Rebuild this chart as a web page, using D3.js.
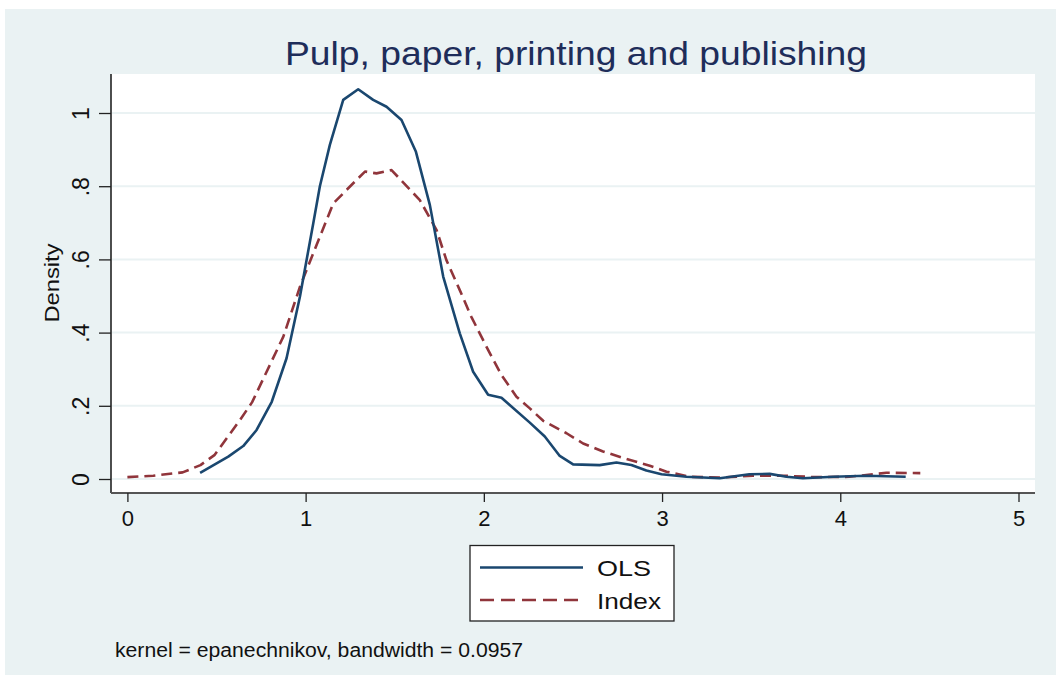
<!DOCTYPE html>
<html>
<head>
<meta charset="utf-8">
<script src="https://cdn.jsdelivr.net/npm/d3@7"></script>
<style>
  html, body { margin: 0; padding: 0; background: #ffffff; }
  svg { display: block; font-family: "Liberation Sans", Arial, sans-serif; }
</style>
</head>
<body>
<svg id="chart" width="1056" height="675"></svg>
<script>
// Kernel density estimates (Epanechnikov, bw = 0.0957)
const olsX = [0.408, 0.566, 0.65, 0.725, 0.81, 0.893, 0.968, 1.043, 1.08, 1.136, 1.211, 1.295, 1.379, 1.454, 1.538, 1.619, 1.697, 1.772, 1.865, 1.94, 2.024, 2.099, 2.258, 2.342, 2.426, 2.501, 2.65, 2.744, 2.828, 2.912, 2.997, 3.137, 3.324, 3.49, 3.604, 3.698, 3.79, 3.96, 4.146, 4.367];
const olsDensity = [0.017, 0.061, 0.09, 0.134, 0.211, 0.33, 0.498, 0.699, 0.80, 0.913, 1.036, 1.065, 1.036, 1.017, 0.981, 0.894, 0.749, 0.553, 0.398, 0.293, 0.23, 0.222, 0.154, 0.116, 0.063, 0.04, 0.038, 0.045, 0.038, 0.023, 0.013, 0.006, 0.002, 0.013, 0.014, 0.006, 0.002, 0.006, 0.009, 0.006];

const indexX = [0.0, 0.145, 0.31, 0.41, 0.49, 0.63, 0.70, 0.875, 0.968, 1.043, 1.155, 1.267, 1.333, 1.398, 1.482, 1.641, 1.735, 1.79, 1.865, 1.93, 2.015, 2.099, 2.183, 2.258, 2.333, 2.464, 2.557, 2.669, 2.8, 2.931, 3.025, 3.155, 3.324, 3.51, 3.68, 3.866, 4.05, 4.259, 4.449];
const indexDensity = [0.005, 0.009, 0.018, 0.038, 0.066, 0.16, 0.21, 0.389, 0.525, 0.617, 0.753, 0.808, 0.84, 0.835, 0.844, 0.762, 0.68, 0.598, 0.516, 0.443, 0.361, 0.284, 0.225, 0.193, 0.159, 0.125, 0.097, 0.075, 0.055, 0.036, 0.02, 0.006, 0.004, 0.009, 0.009, 0.005, 0.006, 0.017, 0.016];

const xTicks = [0, 1, 2, 3, 4, 5];
const xTickLabels = ["0", "1", "2", "3", "4", "5"];
const yTicks = [0, 0.2, 0.4, 0.6, 0.8, 1.0];
const yTickLabels = ["0", ".2", ".4", ".6", ".8", "1"];
const seriesNames = ["OLS", "Index"];
const titleText = "Pulp, paper, printing and publishing";
const noteText = "kernel = epanechnikov, bandwidth = 0.0957";

const svg = d3.select("#chart");
const bg = "#eaf2f3";
const olsColor = "#1a476f";
const idxColor = "#90353b";

// outer graph region
svg.append("rect").attr("x", 5).attr("y", 9).attr("width", 1051).attr("height", 666).attr("fill", bg);

const plot = { left: 111, top: 74, right: 1035, bottom: 493 };
svg.append("rect")
  .attr("x", plot.left).attr("y", plot.top)
  .attr("width", plot.right - plot.left).attr("height", plot.bottom - plot.top)
  .attr("fill", "#ffffff");

const x = d3.scaleLinear().domain([0, 5]).range([127.4, 1018.5]);
const y = d3.scaleLinear().domain([0, 1]).range([479, 113]);

// horizontal gridlines
svg.append("g").selectAll("line").data(yTicks).join("line")
  .attr("x1", plot.left + 1).attr("x2", plot.right)
  .attr("y1", d => y(d)).attr("y2", d => y(d))
  .attr("stroke", bg).attr("stroke-width", 2);

// y axis
const yAxis = d3.axisLeft(y).tickValues(yTicks).tickSize(12).tickPadding(10)
  .tickFormat((d, i) => yTickLabels[i]);
const gy = svg.append("g").attr("transform", `translate(${plot.left},0)`).call(yAxis);
gy.select(".domain").attr("d", `M0,${plot.top}V${plot.bottom}`).attr("stroke", "#222").attr("stroke-width", 1.6);
gy.selectAll(".tick line").attr("stroke", "#222").attr("stroke-width", 1.3);
gy.selectAll(".tick text")
  .attr("font-size", 23).attr("fill", "#111").attr("font-family", "Liberation Sans, Arial, sans-serif")
  .attr("text-anchor", "middle")
  .attr("x", null).attr("y", 0).attr("dy", "0")
  .attr("transform", "translate(-22,0) rotate(-90)");

// x axis
const xAxis = d3.axisBottom(x).tickValues(xTicks).tickSize(9).tickPadding(8)
  .tickFormat((d, i) => xTickLabels[i]);
const gx = svg.append("g").attr("transform", `translate(0,${plot.bottom})`).call(xAxis);
gx.select(".domain").attr("d", `M${plot.left},0H${plot.right}`).attr("stroke", "#555").attr("stroke-width", 2.2);
gx.selectAll(".tick line").attr("stroke", "#222").attr("stroke-width", 1.3);
gx.selectAll(".tick text")
  .attr("font-size", 22).attr("fill", "#111").attr("font-family", "Liberation Sans, Arial, sans-serif");

// density curves
const line = d3.line().x(d => x(d[0])).y(d => y(d[1]));
const olsPts = olsX.map((v, i) => [v, olsDensity[i]]);
const idxPts = indexX.map((v, i) => [v, indexDensity[i]]);

svg.append("path").datum(idxPts).attr("d", line)
  .attr("fill", "none").attr("stroke", idxColor).attr("stroke-width", 2.6)
  .attr("stroke-dasharray", "11,6").attr("stroke-linejoin", "round");
svg.append("path").datum(olsPts).attr("d", line)
  .attr("fill", "none").attr("stroke", olsColor).attr("stroke-width", 2.6)
  .attr("stroke-linejoin", "round");

// title
svg.append("text").attr("x", 576).attr("y", 65).attr("text-anchor", "middle")
  .attr("font-size", 33).attr("fill", "#1e2d5a")
  .attr("textLength", 582).attr("lengthAdjust", "spacingAndGlyphs")
  .text(titleText);

// y axis title
svg.append("text").attr("transform", "translate(59,283) rotate(-90)")
  .attr("text-anchor", "middle").attr("font-size", 21).attr("fill", "#111")
  .attr("textLength", 79).attr("lengthAdjust", "spacingAndGlyphs")
  .text("Density");

// legend
const lg = svg.append("g");
lg.append("rect").attr("x", 470).attr("y", 545.5).attr("width", 204).attr("height", 75.5)
  .attr("fill", "#ffffff").attr("stroke", "#222").attr("stroke-width", 1.3);
const legendRows = [
  { name: seriesNames[0], color: olsColor, dash: null, y: 567.5, len: 54 },
  { name: seriesNames[1], color: idxColor, dash: "14,7", y: 600, len: 64 }
];
legendRows.forEach(r => {
  lg.append("line").attr("x1", 480).attr("x2", 583).attr("y1", r.y).attr("y2", r.y)
    .attr("stroke", r.color).attr("stroke-width", 2.6)
    .attr("stroke-dasharray", r.dash);
  lg.append("text").attr("x", 597).attr("y", r.y + 8.5).attr("font-size", 22).attr("fill", "#111")
    .attr("textLength", r.len).attr("lengthAdjust", "spacingAndGlyphs")
    .text(r.name);
});

// note
svg.append("text").attr("x", 115).attr("y", 657).attr("font-size", 20).attr("fill", "#111")
  .attr("textLength", 408).attr("lengthAdjust", "spacingAndGlyphs")
  .text(noteText);
</script>
</body>
</html>
